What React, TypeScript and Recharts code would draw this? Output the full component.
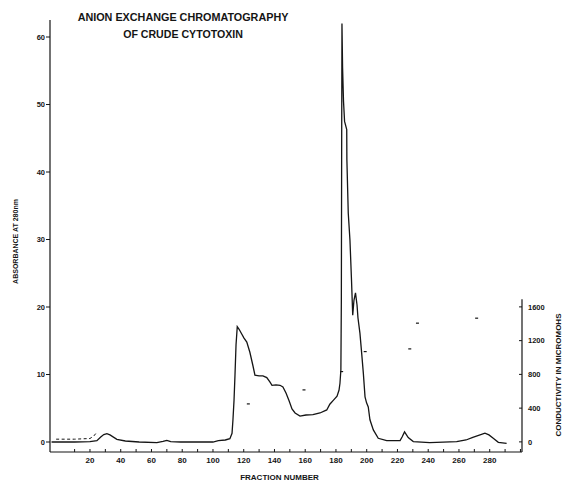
import { ComposedChart, Line, XAxis, YAxis, ReferenceLine } from 'recharts';

// absorbance trace, fraction number vs A280
const fractions = [
  -5, 10, 20, 24.5, 27, 29, 31, 33, 37.5, 43, 52, 63.5, 67.5, 70, 72.5, 79, 100, 103.5, 108, 111,
  112.4, 113, 113.7, 114.3, 115, 115.8, 117, 118.7, 120.2, 122, 124, 126, 127.3, 130, 132.5, 135,
  137, 138.4, 141, 143.6, 145.5, 147.5, 149.5, 151.4, 153.4, 156.6, 160.5, 165, 169.6, 174, 176,
  178.4, 180.7, 182, 182.6, 183.2, 183.5, 183.7, 183.9, 184.3, 184.9, 185.6, 187, 187.1, 188, 189.1,
  190.1, 190.9, 191.7, 192.7, 193.7, 194.3, 195.6, 196.7, 197.8, 198.9, 199.9, 201, 202.1, 204.3,
  207.5, 213, 221.7, 223, 224.6, 227, 230.3, 241, 258.5, 264.6, 269, 273.7, 276.9, 279.5, 282.3,
  285.6, 291,
];
const absorbance = [
  0, 0, 0.05, 0.2, 0.75, 1.1, 1.25, 1.05, 0.4, 0.15, 0, -0.1, 0.1, 0.25, 0.05, 0, 0, 0.2, 0.3, 0.5,
  1.3, 3.3, 6.2, 9.8, 14.4, 17.1, 16.7, 16, 15.4, 14.8, 13.3, 11.3, 9.9, 9.8, 9.8, 9.55,
  8.9, 8.4, 8.45, 8.4, 8.15, 7.25, 6.1, 4.9, 4.3, 3.85, 4.0, 4.05, 4.3, 4.75, 5.6,
  6.2, 6.8, 7.7, 8.7, 10.7, 21, 43, 62, 55.5, 50.5, 47.5, 46.3, 41.8, 33.9, 29.9,
  24, 18.8, 21, 22.1, 20.3, 18.4, 16.1, 13.2, 10.2, 6.7, 5.8, 5.2, 3.3, 1.8,
  0.55, 0.2, 0.2, 0.75, 1.5, 0.65, 0.07, -0.1, 0.05, 0.3, 0.7, 1.05, 1.3, 1.05, 0.55,
  -0.05, -0.2,
];

// conductivity: dashed start of the gradient, then single readings
const condStartFractions = [-2, 10, 20, 22.5, 24.5];
const condStartValues = [32, 32, 40, 70, 115];
const condFractions = [123, 159.2, 183.7, 199, 228, 233, 271.5];
const condValues = [450, 616, 833, 1070, 1102, 1407, 1466];

const fractionTicks = [10, 20, 30, 40, 50, 60, 70, 80, 90, 100, 110, 120, 130, 140, 150, 160, 170, 180, 190, 200, 210, 220, 230, 240, 250, 260, 270, 280, 290, 300];
const fractionLabels = [20, 40, 60, 80, 100, 120, 140, 160, 180, 200, 220, 240, 260, 280];
const absorbanceTicks = [0, 10, 20, 30, 40, 50, 60];
const conductivityTicks = [0, 400, 800, 1200, 1600];

const INK = '#151515';
const FONT = '"Liberation Sans", Arial, Helvetica, sans-serif';

const absData = fractions.map((f, i) => ({ f, a: absorbance[i] }));
const condStartData = condStartFractions.map((f, i) => ({ f, c: condStartValues[i] }));
const condData = condFractions.map((f, i) => ({ f, c: condValues[i] }));

function FractionTick(props: any) {
  const { x, y, payload } = props;
  const v = payload.value;
  return (
    <g>
      <line x1={x} x2={x} y1={y} y2={y - 3} stroke={INK} strokeWidth={1} />
      {fractionLabels.includes(v) && (
        <text x={x} y={y + 10.5} textAnchor="middle" fontSize={8} fontWeight="bold" fontFamily={FONT} fill={INK}>
          {v}
        </text>
      )}
    </g>
  );
}

function AbsTick(props: any) {
  const { x, y, payload } = props;
  return (
    <g>
      <line x1={x - 4} x2={x} y1={y} y2={y} stroke={INK} strokeWidth={1} />
      <text x={x - 5} y={y + 2.7} textAnchor="end" fontSize={7.5} fontWeight="bold" fontFamily={FONT} fill={INK}>
        {payload.value}
      </text>
    </g>
  );
}

function CondTick(props: any) {
  const { x, y, payload } = props;
  return (
    <g>
      <line x1={x - 3} x2={x} y1={y} y2={y} stroke={INK} strokeWidth={1} />
      <text x={x + 6} y={y + 2.7} textAnchor="start" fontSize={7.5} fontWeight="bold" fontFamily={FONT} fill={INK}>
        {payload.value}
      </text>
    </g>
  );
}

function CondMark(props: any) {
  const { cx, cy, index } = props;
  if (cx == null || cy == null) return <g key={index} />;
  return <line key={index} x1={cx - 1.5} x2={cx + 1.5} y1={cy} y2={cy} stroke={INK} strokeWidth={1.2} />;
}

export default function App() {
  return (
    <div style={{ position: 'absolute', left: 0, top: 0, width: 566, height: 484, background: '#fff' }}>
      <ComposedChart width={566} height={484} margin={{ top: 20, right: 4, bottom: 4, left: 10 }}>
        <XAxis
          type="number"
          dataKey="f"
          domain={[-6, 301]}
          allowDataOverflow
          ticks={fractionTicks}
          interval={0}
          tick={<FractionTick />}
          tickLine={false}
          tickSize={0}
          tickMargin={0}
          height={28}
          axisLine={{ stroke: INK, strokeWidth: 1.2 }}
        />
        <YAxis
          yAxisId="left"
          type="number"
          domain={[-1.48, 62.52]}
          allowDataOverflow
          ticks={absorbanceTicks}
          interval={0}
          tick={<AbsTick />}
          tickLine={false}
          tickSize={0}
          tickMargin={0}
          width={40}
          axisLine={{ stroke: INK, strokeWidth: 1.2 }}
        />
        <YAxis
          yAxisId="right"
          orientation="right"
          type="number"
          domain={[-120, 5000]}
          allowDataOverflow
          ticks={conductivityTicks}
          interval={0}
          tick={<CondTick />}
          tickLine={false}
          tickSize={0}
          tickMargin={0}
          width={40}
          axisLine={false}
        />
        <ReferenceLine
          yAxisId="right"
          segment={[{ x: 301, y: -120 }, { x: 301, y: 1690 }]}
          stroke={INK}
          strokeWidth={1.2}
        />
        <Line
          yAxisId="left"
          data={absData}
          dataKey="a"
          type="linear"
          stroke={INK}
          strokeWidth={1.3}
          dot={false}
          activeDot={false}
          isAnimationActive={false}
        />
        <Line
          yAxisId="right"
          data={condStartData}
          dataKey="c"
          type="linear"
          stroke={INK}
          strokeWidth={1}
          strokeDasharray="3 2.5"
          dot={false}
          activeDot={false}
          isAnimationActive={false}
        />
        <Line
          yAxisId="right"
          data={condData}
          dataKey="c"
          stroke="none"
          dot={<CondMark />}
          activeDot={false}
          isAnimationActive={false}
        />
      </ComposedChart>
      <svg width={566} height={484} style={{ position: 'absolute', left: 0, top: 0, pointerEvents: 'none' }}>
        <g fontFamily={FONT} fontWeight="bold" fill={INK}>
          <text x={183} y={20.7} textAnchor="middle" fontSize={10.8}>ANION EXCHANGE CHROMATOGRAPHY</text>
          <text x={183} y={38.3} textAnchor="middle" fontSize={10.6}>OF CRUDE CYTOTOXIN</text>
          <text x={279.5} y={480} textAnchor="middle" fontSize={8}>FRACTION NUMBER</text>
          <text x={15} y={241.5} textAnchor="middle" dominantBaseline="central" fontSize={7} transform="rotate(-90 15 241.5)">
            ABSORBANCE AT 280nm
          </text>
          <text x={558} y={375} textAnchor="middle" dominantBaseline="central" fontSize={8} transform="rotate(-90 558 375)">
            CONDUCTIVITY  IN  MICROMOHS
          </text>
        </g>
      </svg>
    </div>
  );
}
